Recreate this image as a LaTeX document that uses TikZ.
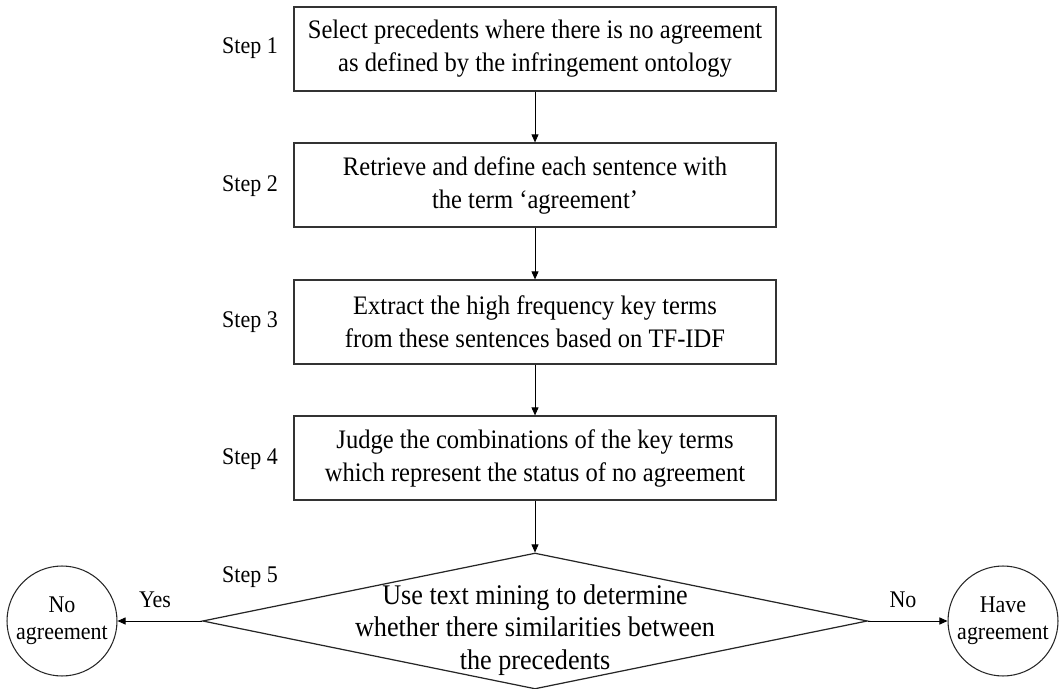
\documentclass[tikz,border=0pt]{standalone}
\usepackage{fontspec}
\setmainfont{Liberation Serif}[FakeStretch=0.92]
\usetikzlibrary{arrows.meta,shapes.geometric}

\begin{document}
\begin{tikzpicture}[x=0.02cm,y=-0.02cm,
    stepbox/.style={draw=black!80, line width=0.7pt, minimum width=9.64cm, minimum height=1.68cm,
      align=center, font=\fontsize{15.2}{18.8}\selectfont},
    steplabel/.style={font=\fontsize{13.6}{16}\selectfont},
    endcircle/.style={draw=black!85, circle, line width=0.6pt, minimum size=2.2cm, inner sep=0pt,
      align=center, font=\fontsize{13.6}{15.5}\selectfont},
    flow/.style={-{Triangle[length=1.6mm,width=1.4mm]}, line width=0.5pt}]
        \useasboundingbox (0,0) rectangle (1062,689);

        \node[stepbox] (s1) at (535,49) {Select precedents where there is no agreement\\as defined by the infringement ontology};
        \node[steplabel] (l1) at (250,48) {Step 1};

        \node[stepbox] (s2) at (535,185) {Retrieve and define each sentence with\\the term `agreement'};
        \node[steplabel] (l2) at (250,186) {Step 2};

        \node[stepbox] (s3) at (535,322) {Extract the high frequency key terms\\from these sentences based on TF-IDF};
        \node[steplabel] (l3) at (250,322) {Step 3};

        \node[stepbox] (s4) at (535,458) {Judge the combinations of the key terms\\which represent the status of no agreement};
        \node[steplabel] (l4) at (250,459) {Step 4};

        \node[draw=black!85, diamond, line width=0.7pt, minimum width=13.3cm, minimum height=2.72cm, inner sep=0pt] (d5) at (535,621) {};
        \node[align=center, font=\fontsize{16.2}{18.5}\selectfont] (t5) at (535,630) {Use text mining to determine\\whether there similarities between\\the precedents};
        \node[steplabel] (l5) at (250,577) {Step 5};

        \node[endcircle] (no) at (62,621) {No\\agreement};
        \node[endcircle] (have) at (1003,621) {Have\\agreement};
        \node[endcircle, draw=none, minimum size=0pt, inner sep=2pt] (yes) at (155,600) {Yes};
        \node[endcircle, draw=none, minimum size=0pt, inner sep=2pt] (nolab) at (903,600) {No};

        \draw[flow] (s1) -- (s2);
        \draw[flow] (s2) -- (s3);
        \draw[flow] (s3) -- (s4);
        \draw[flow] (s4) -- (d5.north);
        \draw[flow] (d5.west) -- (no);
        \draw[flow] (d5.east) -- (have);
    \end{tikzpicture}
\end{document}
